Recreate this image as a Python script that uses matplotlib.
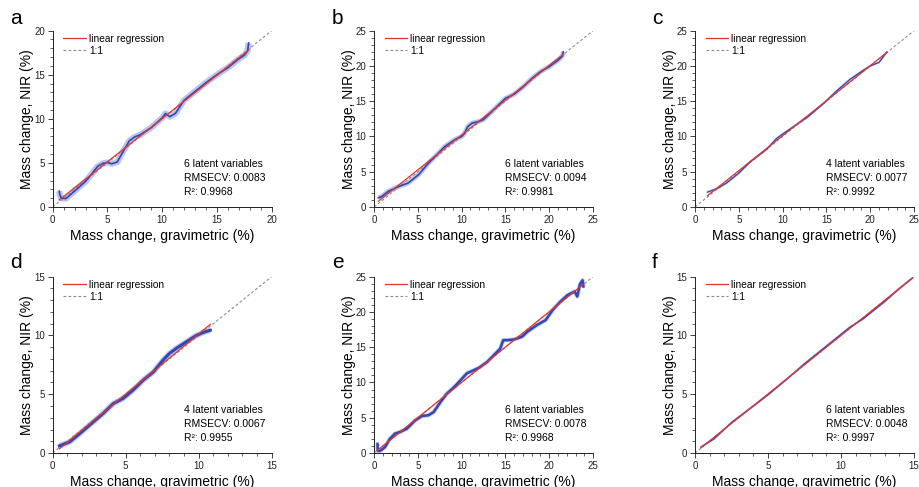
import numpy as np
import matplotlib
matplotlib.use('Agg')
import matplotlib.pyplot as plt
from matplotlib.ticker import MultipleLocator

plt.rcParams['font.family'] = ['Liberation Sans', 'DejaVu Sans']

# panel letters and axis limits
panel_labels = ['a', 'b', 'c', 'd', 'e', 'f']
axis_max = [20, 25, 25, 15, 25, 15]

# model info shown in each panel
latent_vars = [6, 6, 4, 4, 6, 6]
rmsecv = ['0.0083', '0.0094', '0.0077', '0.0067', '0.0078', '0.0048']
r2 = ['0.9968', '0.9981', '0.9992', '0.9955', '0.9968', '0.9997']

# gravimetric vs NIR mass change (%)
grav_a = [0.6, 0.65, 0.8, 1.2, 2.0, 3.0, 3.6, 4.1, 4.6, 5.0, 5.4, 5.9, 6.3, 7.0, 7.5,
          8.0, 9.0, 10.0, 10.3, 10.7, 11.2, 12.0, 13.0, 14.0, 15.0, 16.0, 17.0, 17.5, 17.8, 17.9]
nir_a = [1.8, 1.4, 1.0, 0.95, 1.8, 2.9, 3.8, 4.6, 4.95, 5.05, 4.9, 5.1, 6.0, 7.5, 7.95,
         8.2, 9.0, 10.1, 10.6, 10.25, 10.6, 12.1, 13.1, 14.1, 15.0, 15.8, 16.8, 17.2, 17.7, 18.6]

grav_b = [0.5, 0.9, 1.6, 2.8, 3.9, 5.1, 6.2, 7.4, 8.1, 9.3, 10.0, 10.3, 10.7, 11.2, 11.9,
          12.5, 14.0, 15.0, 16.0, 17.0, 18.0, 19.0, 20.0, 21.0, 21.5, 21.6]
nir_b = [1.3, 1.5, 2.2, 2.9, 3.4, 4.6, 6.2, 7.7, 8.6, 9.6, 10.0, 10.4, 11.4, 11.9, 12.1,
         12.4, 14.2, 15.4, 16.0, 17.0, 18.2, 19.2, 19.9, 20.8, 21.4, 22.0]

grav_c = [1.4, 2.5, 3.6, 5.0, 6.3, 8.2, 9.3, 10.3, 11.6, 12.8, 14.7, 16.2, 17.7, 19.1, 20.0, 21.0, 21.9]
nir_c = [2.1, 2.6, 3.4, 4.8, 6.4, 8.2, 9.7, 10.6, 11.7, 12.7, 14.7, 16.5, 18.1, 19.3, 20.0, 20.5, 22.0]

grav_d = [0.46, 1.18, 1.87, 2.55, 3.46, 4.15, 4.83, 5.5, 6.2, 6.9, 7.56, 8.0, 8.47, 9.16, 9.84, 10.3, 10.8]
nir_d = [0.6, 0.96, 1.67, 2.4, 3.37, 4.2, 4.65, 5.35, 6.2, 6.9, 7.9, 8.47, 8.9, 9.46, 10.0, 10.25, 10.45]

grav_e = [0.4, 0.42, 0.7, 1.26, 1.8, 2.4, 3.0, 3.75, 4.7, 5.5, 6.2, 6.8, 7.6, 8.3, 9.1, 9.86,
          10.6, 11.4, 12.0, 12.9, 13.7, 14.4, 14.75, 15.2, 16.0, 16.9, 17.5, 18.6, 19.6, 20.4,
          21.3, 22.1, 22.9, 23.2, 23.5, 23.8, 23.9]
nir_e = [1.3, 0.3, 0.3, 0.85, 2.0, 2.75, 3.0, 3.46, 4.64, 5.26, 5.35, 5.8, 7.25, 8.4, 9.3, 10.3,
         11.3, 11.75, 12.1, 12.9, 13.9, 14.8, 16.0, 16.0, 16.1, 16.5, 17.2, 18.15, 18.86, 20.3,
         21.5, 22.4, 22.9, 22.2, 23.9, 24.5, 23.6]

grav_f = [0.4, 1.3, 2.5, 4.0, 5.0, 6.3, 7.5, 8.5, 9.5, 10.6, 11.5, 13.0, 14.0, 14.9]
nir_f = [0.5, 1.2, 2.6, 4.0, 4.95, 6.3, 7.6, 8.6, 9.6, 10.7, 11.4, 12.9, 14.0, 14.9]

grav = [grav_a, grav_b, grav_c, grav_d, grav_e, grav_f]
nir = [nir_a, nir_b, nir_c, nir_d, nir_e, nir_f]

# look of the data band per panel (halo width, core width)
band_style = [(4.5, 1.2), (3.5, 1.2), (1.6, 0.9), (4.0, 2.2), (3.0, 1.8), (1.6, 0.9)]

fig = plt.figure(figsize=(9.19, 4.87), dpi=100)

lefts = [0.0573, 0.407, 0.7563]
bottoms = [0.575, 0.0698]
w, h = 0.2383, 0.362

for i in range(6):
    row, col = divmod(i, 3)
    ax = fig.add_axes([lefts[col], bottoms[row], w, h])
    m = axis_max[i]
    x = np.array(grav[i])
    y = np.array(nir[i])

    # 1:1 line
    ax.plot([0, m], [0, m], color='#8c8c8c', lw=0.8, linestyle=(0, (2.5, 2)),
            label='1:1', zorder=1)
    # measured data band
    halo, core = band_style[i]
    ax.plot(x, y, color='#8496dc', lw=halo, alpha=0.55, solid_capstyle='butt', zorder=2)
    ax.plot(x, y, color='#3346b4', lw=core, zorder=3)
    # linear regression
    k, b0 = np.polyfit(x, y, 1)
    xr = np.array([x.min(), x.max()])
    ax.plot(xr, k * xr + b0, color='#e5332a', lw=0.9, label='linear regression', zorder=4)

    ax.set_xlim(0, m)
    ax.set_ylim(0, m)
    ax.xaxis.set_major_locator(MultipleLocator(5))
    ax.yaxis.set_major_locator(MultipleLocator(5))
    ax.xaxis.set_minor_locator(MultipleLocator(1))
    ax.yaxis.set_minor_locator(MultipleLocator(1))
    ax.tick_params(which='major', direction='out', length=3.5, width=0.6,
                   labelsize=7, pad=2, colors='#222222')
    ax.tick_params(which='minor', direction='out', length=2, width=0.5, colors='#222222')
    for s in ['top', 'right']:
        ax.spines[s].set_visible(False)
    for s in ['left', 'bottom']:
        ax.spines[s].set_linewidth(0.7)
        ax.spines[s].set_color('#222222')

    ax.set_xlabel('Mass change, gravimetric (%)', fontsize=10, labelpad=3)
    ax.set_ylabel('Mass change, NIR (%)', fontsize=10, labelpad=0)

    handles, labels = ax.get_legend_handles_labels()
    ax.legend(handles[::-1], labels[::-1], loc='upper left', bbox_to_anchor=(0.04, 0.995),
              frameon=False, fontsize=7.3, handlelength=2.2, handletextpad=0.3,
              labelspacing=0.2, borderaxespad=0, borderpad=0.2)

    ax.text(0.6, 0.244, f'{latent_vars[i]} latent variables', transform=ax.transAxes,
            fontsize=7.5, va='center', ha='left')
    ax.text(0.6, 0.167, f'RMSECV: {rmsecv[i]}', transform=ax.transAxes,
            fontsize=7.5, va='center', ha='left')
    ax.text(0.6, 0.085, f'R\u00b2: {r2[i]}', transform=ax.transAxes,
            fontsize=7.5, va='center', ha='left')

    lx = [10, 332, 652][col] / 919
    ly = 1 - [18, 263][row] / 487
    fig.text(lx, ly, panel_labels[i], fontsize=15, ha='left', va='center')

fig.savefig('out.png', dpi=100, facecolor='white')
